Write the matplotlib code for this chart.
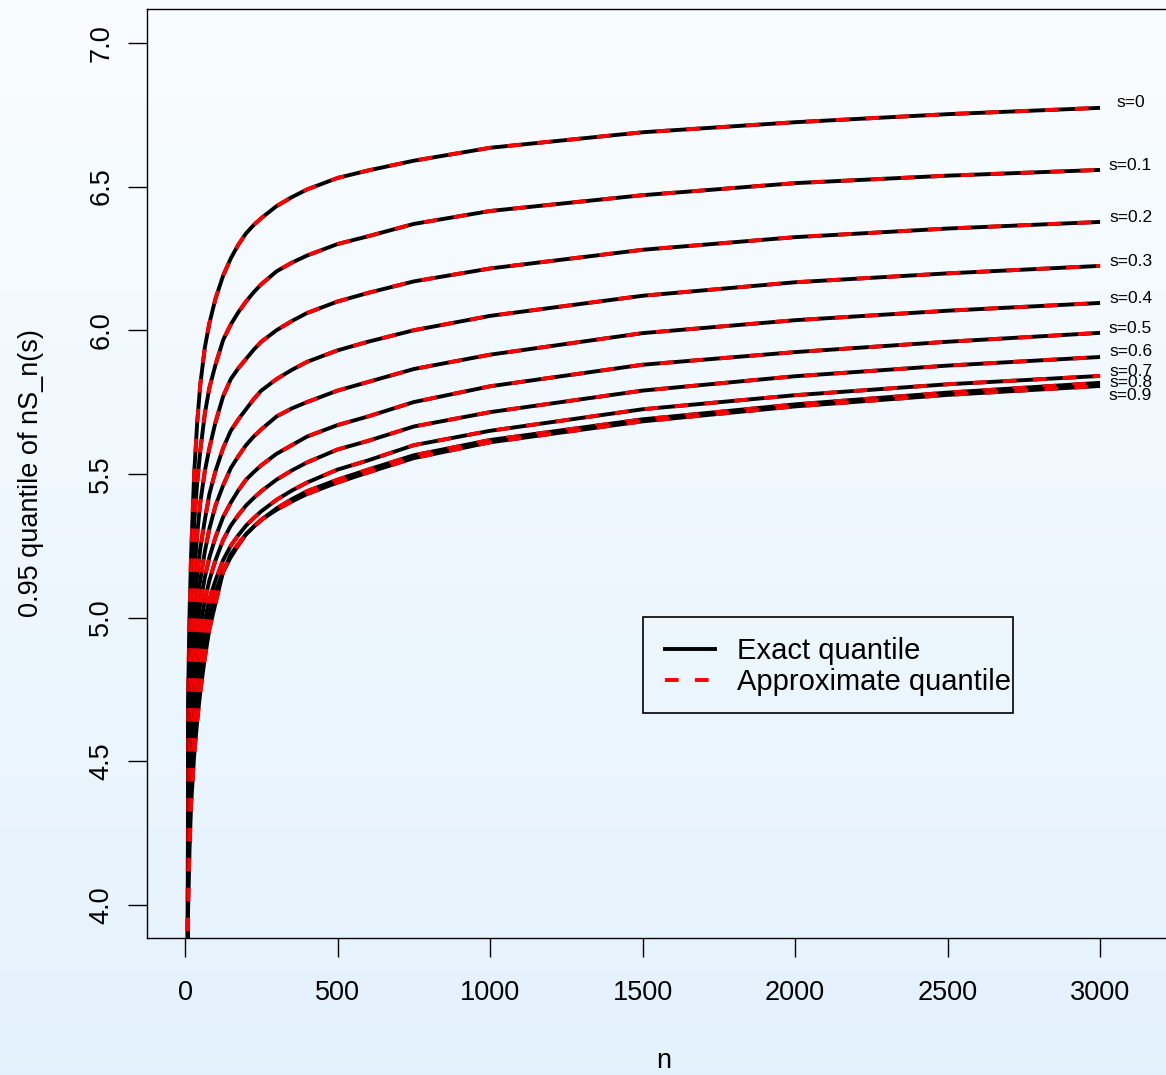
import numpy as np
import matplotlib
matplotlib.use("Agg")
import matplotlib.pyplot as plt
from matplotlib.patches import Rectangle

# sample sizes where the curves were read
n = [9, 10, 15, 20, 30, 40, 50, 65, 80, 100, 125, 150, 175, 200, 225, 250, 300,
     350, 400, 500, 600, 750, 1000, 1500, 2000, 2500, 3000]

# 0.95 quantile of nS_n(s), one list per s (exact and approximate overlap)
q_s00 = [3.70, 4.71, 5.02, 5.22, 5.50, 5.68, 5.81, 5.94, 6.025, 6.11, 6.19, 6.25, 6.298,
         6.337, 6.366, 6.39, 6.432, 6.463, 6.49, 6.53, 6.556, 6.59, 6.635, 6.689, 6.724, 6.752, 6.774]
q_s01 = [3.70, 4.60, 4.92, 5.09, 5.33, 5.47, 5.58, 5.71, 5.80, 5.88, 5.966, 6.02, 6.063,
         6.10, 6.132, 6.16, 6.205, 6.235, 6.26, 6.30, 6.327, 6.37, 6.415, 6.47, 6.512, 6.538, 6.558]
q_s02 = [3.70, 4.45, 4.80, 4.96, 5.15, 5.29, 5.40, 5.51, 5.59, 5.68, 5.77, 5.83, 5.868,
         5.90, 5.932, 5.96, 6.00, 6.032, 6.06, 6.10, 6.13, 6.17, 6.215, 6.28, 6.324, 6.354, 6.377]
q_s03 = [3.70, 4.35, 4.70, 4.86, 5.04, 5.15, 5.24, 5.34, 5.43, 5.51, 5.59, 5.65, 5.69,
         5.725, 5.76, 5.79, 5.83, 5.862, 5.89, 5.93, 5.96, 6.00, 6.05, 6.12, 6.167, 6.198, 6.224]
q_s04 = [3.70, 4.28, 4.58, 4.73, 4.93, 5.05, 5.13, 5.23, 5.31, 5.39, 5.46, 5.52, 5.562,
         5.60, 5.63, 5.655, 5.70, 5.728, 5.75, 5.79, 5.82, 5.865, 5.915, 5.99, 6.035, 6.068, 6.095]
q_s05 = [3.70, 4.22, 4.48, 4.65, 4.84, 4.96, 5.05, 5.14, 5.21, 5.28, 5.35, 5.40, 5.443,
         5.48, 5.506, 5.53, 5.57, 5.60, 5.63, 5.67, 5.70, 5.75, 5.805, 5.88, 5.924, 5.96, 5.991]
q_s06 = [3.70, 4.15, 4.40, 4.57, 4.74, 4.87, 4.97, 5.06, 5.13, 5.20, 5.27, 5.32, 5.357,
         5.39, 5.416, 5.44, 5.48, 5.512, 5.54, 5.585, 5.615, 5.665, 5.715, 5.79, 5.840, 5.877, 5.907]
q_s07 = [3.70, 4.10, 4.33, 4.49, 4.66, 4.79, 4.89, 4.99, 5.065, 5.13, 5.20, 5.25, 5.287,
         5.32, 5.346, 5.37, 5.41, 5.442, 5.47, 5.515, 5.547, 5.60, 5.65, 5.725, 5.774, 5.812, 5.841]
q_s08 = [3.70, 4.06, 4.28, 4.43, 4.60, 4.71, 4.82, 4.93, 5.01, 5.09, 5.16, 5.21, 5.252,
         5.29, 5.316, 5.34, 5.38, 5.412, 5.44, 5.48, 5.515, 5.565, 5.618, 5.69, 5.742, 5.783, 5.817]
q_s09 = [3.70, 3.98, 4.20, 4.35, 4.52, 4.64, 4.74, 4.86, 4.96, 5.05, 5.16, 5.22, 5.257,
         5.29, 5.316, 5.34, 5.375, 5.404, 5.43, 5.47, 5.505, 5.555, 5.61, 5.683, 5.735, 5.775, 5.806]

curves = [q_s00, q_s01, q_s02, q_s03, q_s04, q_s05, q_s06, q_s07, q_s08, q_s09]
s_labels = ["s=0", "s=0.1", "s=0.2", "s=0.3", "s=0.4", "s=0.5", "s=0.6", "s=0.7", "s=0.8", "s=0.9"]
label_y = [6.791, 6.575, 6.394, 6.238, 6.109, 6.005, 5.925, 5.855, 5.817, 5.772]

x_ticks = [0, 500, 1000, 1500, 2000, 2500, 3000]
y_ticks = [4.0, 4.5, 5.0, 5.5, 6.0, 6.5, 7.0]

plt.rcParams["font.family"] = ["Liberation Sans", "DejaVu Sans"]

fig = plt.figure(figsize=(11.66, 10.75), dpi=100)

# gradient background, white at top to light blue at bottom
bg = fig.add_axes([0, 0, 1, 1], zorder=-10)
grad = np.linspace(0, 1, 256).reshape(-1, 1)
top = np.array([0.980, 0.992, 1.000])
bot = np.array([0.894, 0.949, 0.992])
img = top + (bot - top) * grad[:, :, None]
bg.imshow(img, aspect="auto", extent=[0, 1, 0, 1])
bg.axis("off")

ax = fig.add_axes([147 / 1166, 137 / 1075, 1033 / 1166, 929 / 1075])
ax.set_facecolor("none")

for q in curves:
    ax.plot(n, q, color="black", lw=2.8, solid_capstyle="butt")
    ax.plot(n, q, color="red", lw=2.8, dashes=(3.5, 4.2))

for lab, yy in zip(s_labels, label_y):
    ax.text(3100, yy, lab, fontsize=12.5, ha="center", va="center", clip_on=False)

ax.set_xlim(-124.6, 3262)
ax.set_ylim(3.885, 7.118)
ax.set_xticks(x_ticks)
ax.set_xticklabels([str(t) for t in x_ticks])
ax.set_yticks(y_ticks)
ax.set_yticklabels(["%.1f" % t for t in y_ticks], rotation=90, va="center")
ax.tick_params(direction="out", length=13.5, width=1.0, labelsize=19.5, pad=10)
ax.tick_params(axis="x", pad=17)
for sp in ax.spines.values():
    sp.set_linewidth(1.0)

ax.set_xlabel("n", fontsize=19.5, labelpad=30)
ax.set_ylabel("0.95 quantile of nS_n(s)", fontsize=19.5, labelpad=32)

# legend box (R style, text close to the right border)
ax.add_patch(Rectangle((0.4802, 0.2422), 0.3582, 0.1033, transform=ax.transAxes,
                       fill=False, edgecolor="black", lw=1.2))
h1, = ax.plot([], [], color="black", lw=2.8)
h2, = ax.plot([], [], color="red", lw=2.8, dashes=(3.5, 4.2))
leg = ax.legend([h1, h2], ["Exact quantile", "Approximate quantile"],
                loc="upper left", bbox_to_anchor=(0.5015, 0.3236),
                fontsize=21, handlelength=1.7, handletextpad=0.75,
                borderpad=0, labelspacing=0.1, frameon=False, borderaxespad=0)

fig.savefig("out.png", dpi=100)
